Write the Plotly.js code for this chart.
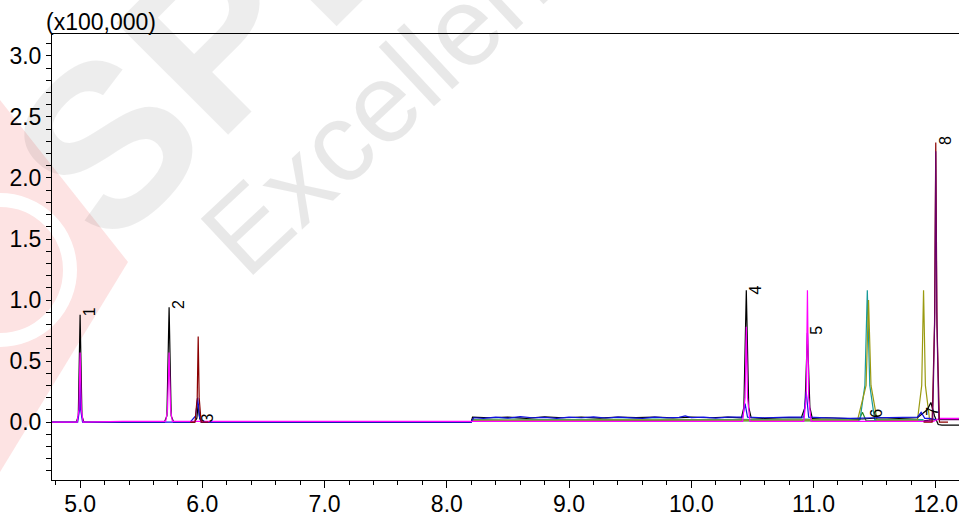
<!DOCTYPE html>
<html>
<head>
<meta charset="utf-8">
<script src="https://cdn.plot.ly/plotly-3.0.1.min.js"></script>
<style>html,body{margin:0;padding:0;background:#fff;}#chart{width:959px;height:515px;}</style>
</head>
<body>
<div id="chart"></div>
<script>
// Retention time (min) and intensity (x100,000) per channel
const blackTime   = [4.77, 4.97, 4.985, 5.0, 5.015, 5.03, 5.69, 5.71, 5.728, 5.745, 5.765, 5.935, 5.955, 5.966, 5.978, 5.995, 8.2, 8.21, 8.35, 8.5, 8.65, 8.8, 8.95, 9.1, 9.25, 9.4, 9.55, 9.7, 9.85, 10.0, 10.15, 10.3, 10.41, 10.43, 10.45, 10.47, 10.49, 10.6, 10.75, 10.9, 10.93, 10.95, 10.97, 10.99, 11.1, 11.25, 11.4, 11.55, 11.7, 11.85, 11.93, 11.96, 11.99, 12.02, 12.05, 12.2];
const blackSignal = [0, 0, 0.05, 0.88, 0.05, 0, 0, 0.05, 0.94, 0.05, 0, 0, 0.03, 0.15, 0.03, 0, 0, 0.04, 0.035, 0.04, 0.03, 0.042, 0.035, 0.04, 0.032, 0.04, 0.036, 0.04, 0.034, 0.04, 0.035, 0.04, 0.035, 0.12, 1.08, 0.12, 0.035, 0.03, 0.036, 0.035, 0.12, 0.73, 0.12, 0.03, 0.035, 0.03, 0.025, 0.035, 0.03, 0.035, 0.1, 0.16, 0.05, -0.02, -0.025, -0.025];

const magentaTime   = [4.77, 4.975, 4.99, 5.0, 5.01, 5.025, 5.35, 5.7, 5.715, 5.728, 5.74, 5.755, 8.2, 10.42, 10.44, 10.45, 10.46, 10.48, 10.92, 10.94, 10.95, 10.96, 10.98, 11.98, 12.03, 12.05, 12.2];
const magentaSignal = [0, 0, 0.1, 0.57, 0.1, 0, 0.005, 0.005, 0.1, 0.57, 0.1, 0.005, 0.005, 0.005, 0.2, 0.78, 0.2, 0.005, 0.005, 0.2, 1.08, 0.2, 0.005, 0.005, 0.03, 0.03, 0.03];

const blueTime   = [4.77, 4.98, 4.995, 5.0, 5.005, 5.02, 5.9, 5.945, 5.962, 5.975, 5.99, 8.2, 8.22, 8.3, 8.4, 8.5, 8.6, 8.7, 8.8, 8.9, 9.0, 9.1, 9.2, 9.3, 9.4, 9.5, 9.6, 9.7, 9.8, 9.9, 9.95, 10.0, 10.1, 10.2, 10.3, 10.42, 10.44, 10.46, 10.6, 10.8, 10.92, 10.94, 10.96, 11.1, 11.3, 11.5, 11.7, 11.85, 11.88, 11.91, 11.95, 12.0];
const blueSignal = [0, 0, 0.1, 0.4, 0.1, 0, 0, 0.05, 0.2, 0.05, 0, 0, 0.035, 0.03, 0.04, 0.032, 0.045, 0.035, 0.038, 0.03, 0.04, 0.035, 0.042, 0.033, 0.04, 0.036, 0.03, 0.04, 0.035, 0.038, 0.05, 0.036, 0.04, 0.032, 0.04, 0.04, 0.15, 0.04, 0.035, 0.04, 0.04, 0.25, 0.04, 0.035, 0.03, 0.035, 0.04, 0.04, 0.08, 0.03, 0.03, 0.02];

const darkRedTime   = [5.9, 5.94, 5.958, 5.966, 5.974, 5.99, 6.05, null, 11.9, 11.97, 11.99, 12.0, 12.01, 12.03, 12.1];
const darkRedSignal = [0, 0, 0.2, 0.70, 0.2, 0, 0, null, 0, 0, 0.8, 2.29, 0.8, 0, 0];

const purpleTime   = [11.9, 11.975, 11.992, 12.0, 12.008, 12.025, 12.2];
const purpleSignal = [0.01, 0.02, 0.9, 2.22, 0.9, 0.02, 0.02];

const tealTime   = [8.2, 8.5, 8.8, 9.1, 9.4, 9.7, 10.0, 10.3, 10.6, 10.9, 11.2, 11.38, 11.42, 11.44, 11.46, 11.5, 11.7, 11.9];
const tealSignal = [0.02, 0.025, 0.02, 0.022, 0.018, 0.024, 0.02, 0.022, 0.02, 0.024, 0.02, 0.02, 0.3, 1.08, 0.3, 0.02, 0.022, 0.02];

const oliveTime   = [8.2, 8.6, 9.0, 9.4, 9.8, 10.2, 10.6, 11.0, 11.36, 11.43, 11.45, 11.47, 11.52, 11.7, 11.85, 11.885, 11.9, 11.915, 11.95, 12.0];
const oliveSignal = [0.015, 0.018, 0.015, 0.017, 0.015, 0.016, 0.015, 0.017, 0.015, 0.3, 1.0, 0.3, 0.015, 0.016, 0.015, 0.3, 1.08, 0.3, 0.015, 0.015];

const greenTime   = [8.2, 8.7, 9.2, 9.7, 10.2, 10.7, 11.2, 11.37, 11.4, 11.43, 11.6, 11.9];
const greenSignal = [0.01, 0.012, 0.01, 0.012, 0.01, 0.012, 0.01, 0.01, 0.08, 0.01, 0.012, 0.01];

const peakNames = ["1", "2", "3", "4", "5", "6", "7", "8"];
const peakTimes = [5.0, 5.728, 5.966, 10.45, 10.95, 11.44, 11.9, 12.0];
const labelHeights = [0.86, 0.92, -0.01, 1.04, 0.71, 0.03, 0.04, 2.26];

const xTicks = [5, 6, 7, 8, 9, 10, 11, 12];
const xTickText = ["5.0", "6.0", "7.0", "8.0", "9.0", "10.0", "11.0", "12.0"];
const yTicks = [0, 0.5, 1.0, 1.5, 2.0, 2.5, 3.0];
const yTickText = ["0.0", "0.5", "1.0", "1.5", "2.0", "2.5", "3.0"];

const FONT = 'Liberation Sans, Arial, sans-serif';
const line = (x, y, color, name) => ({x: x, y: y, type: 'scatter', mode: 'lines', name: name,
  line: {color: color, width: 1.2}, connectgaps: false, hoverinfo: 'skip'});

const traces = [
  line(greenTime, greenSignal, '#2e8b20', 'green'),
  line(tealTime, tealSignal, '#169a9a', 'teal'),
  line(oliveTime, oliveSignal, '#9a9a10', 'olive'),
  line(blackTime, blackSignal, '#000000', 'black'),
  line(blueTime, blueSignal, '#1010e0', 'blue'),
  line(magentaTime, magentaSignal, '#ff00ff', 'magenta'),
  line(darkRedTime, darkRedSignal, '#8b0000', 'darkred'),
  line(purpleTime, purpleSignal, '#6a006a', 'purple')
];

// pixel -> paper helpers for the watermark only
const px = v => (v - 52) / 907;
const py = v => (480 - v) / 446;

const annotations = peakNames.map((n, i) => ({
  x: peakTimes[i], y: labelHeights[i], xref: 'x', yref: 'y', text: n, showarrow: false,
  textangle: -90, xanchor: 'left', yanchor: 'bottom', xshift: 0, borderpad: 0,
  font: {family: FONT, size: 16, color: '#000'}
}));
annotations.push({x: px(45), y: 1, xref: 'paper', yref: 'paper', xanchor: 'left', yanchor: 'bottom',
  yshift: -2, text: '(x100,000)', showarrow: false, borderpad: 0,
  font: {family: FONT, size: 23, color: '#000'}});
annotations.push({x: px(418), y: py(68), xref: 'paper', yref: 'paper', xanchor: 'center', yanchor: 'middle',
  text: 'Excellence', showarrow: false, textangle: -43,
  font: {family: FONT, size: 112, color: 'rgba(0,0,0,0.09)'}});
annotations.push({x: px(210), y: py(40), xref: 'paper', yref: 'paper', xanchor: 'center', yanchor: 'middle',
  text: '<b>SPL</b>', showarrow: false, textangle: -45,
  font: {family: FONT, size: 230, color: 'rgba(0,0,0,0.07)'}});

const shapes = [
  {type: 'path', xref: 'paper', yref: 'paper', layer: 'below', line: {width: 0}, fillcolor: 'rgba(240,60,60,0.14)',
   path: `M ${px(0)} ${py(100)} L ${px(128)} ${py(262)} L ${px(0)} ${py(472)} Z`},
  {type: 'circle', xref: 'paper', yref: 'paper', layer: 'below', fillcolor: 'rgba(0,0,0,0)',
   line: {color: '#ffffff', width: 14}, x0: px(-70), x1: px(70), y0: py(340), y1: py(200)}
];

const layout = {
  width: 959, height: 515,
  margin: {l: 52, r: 0, t: 34, b: 35},
  paper_bgcolor: '#fff', plot_bgcolor: 'rgba(0,0,0,0)',
  showlegend: false,
  font: {family: FONT, color: '#000'},
  xaxis: {range: [4.77, 12.19], showgrid: false, zeroline: false, showline: true, linecolor: '#000', linewidth: 1,
    mirror: true, tickmode: 'array', tickvals: xTicks, ticktext: xTickText, ticks: 'outside', ticklen: 7, tickcolor: '#000',
    ticklabelstandoff: -4,
    minor: {dtick: 0.2, tick0: 0, ticks: 'outside', ticklen: 4, tickcolor: '#000', showgrid: false},
    tickfont: {size: 23, family: FONT, color: '#000'}},
  yaxis: {range: [-0.475, 3.18], showgrid: false, zeroline: false, showline: true, linecolor: '#000', linewidth: 1,
    tickmode: 'array', tickvals: yTicks, ticktext: yTickText, ticks: 'outside', ticklen: 5, tickcolor: '#000',
    minor: {dtick: 0.1, tick0: 0, ticks: 'outside', ticklen: 5, tickcolor: '#000', showgrid: false},
    tickfont: {size: 23, family: FONT, color: '#000'}},
  annotations: annotations,
  shapes: shapes
};

Plotly.newPlot('chart', traces, layout, {staticPlot: true, displayModeBar: false});
</script>
</body>
</html>
